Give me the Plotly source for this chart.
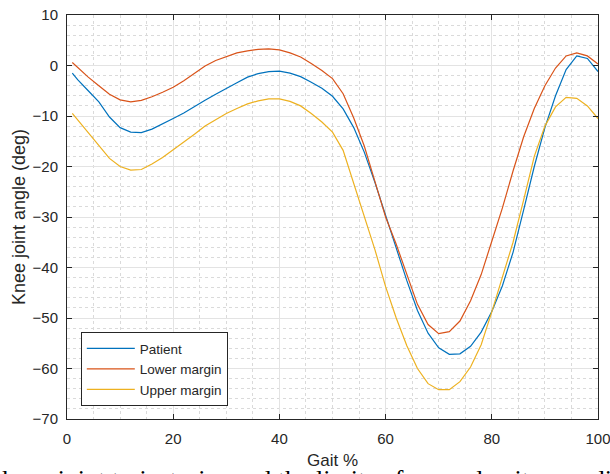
import plotly.graph_objects as go

gait = [1] + list(range(2, 101, 2))

patient = [-1.5, -2.8, -5.0, -7.2, -10.2, -12.3, -13.2, -13.3, -12.6, -11.6,
           -10.5, -9.4, -8.1, -6.9, -5.7, -4.5, -3.4, -2.3, -1.6, -1.2,
           -1.1, -1.5, -2.2, -3.3, -4.5, -6.1, -8.6, -12.3, -17.2, -23.2,
           -29.8, -36.2, -42.6, -48.5, -53.0, -55.9, -57.2, -57.1, -55.6, -52.8,
           -48.7, -43.6, -37.0, -28.6, -20.0, -12.3, -6.0, -0.8, 1.9, 1.4, -1.2]

lower = [0.6, -0.4, -2.3, -4.0, -5.7, -6.8, -7.2, -6.9, -6.2, -5.3,
         -4.3, -3.0, -1.5, -0.1, 1.0, 1.8, 2.5, 2.9, 3.2, 3.3,
         3.1, 2.5, 1.7, 0.4, -1.0, -2.6, -5.6, -10.4, -16.0, -23.0,
         -30.0, -35.4, -41.3, -47.3, -51.3, -53.1, -52.7, -50.6, -46.6, -41.4,
         -34.8, -28.2, -20.9, -14.1, -8.5, -4.0, -0.5, 1.9, 2.5, 1.9, 0.3]

upper = [-9.5, -10.8, -13.3, -16.0, -18.4, -20.0, -20.7, -20.6, -19.5, -18.2,
         -16.7, -15.2, -13.6, -12.0, -10.7, -9.5, -8.5, -7.6, -7.0, -6.6,
         -6.6, -7.1, -8.0, -9.5, -11.2, -13.2, -16.8, -23.5, -30.0, -36.5,
         -43.8, -50.0, -55.5, -60.0, -63.0, -64.2, -64.2, -62.6, -59.7, -55.3,
         -48.8, -41.8, -35.0, -26.6, -18.0, -12.0, -8.2, -6.3, -6.5, -8.0, -10.5]

names = ["Patient", "Lower margin", "Upper margin"]
colors = ["#0072BD", "#D95319", "#EDB120"]

x_ticks = [0, 20, 40, 60, 80, 100]
y_ticks = [10, 0, -10, -20, -30, -40, -50, -60, -70]

caption = "knee joint trajectories and the limits of normal gait according to the"

fig = go.Figure()
for name, vals, col in zip(names, [patient, lower, upper], colors):
    fig.add_trace(go.Scatter(x=gait, y=vals, mode="lines", name=name,
                             line=dict(color=col, width=1.2)))

axis_common = dict(
    showline=True, linecolor="#262626", linewidth=1, mirror="ticks",
    ticks="inside", ticklen=5, tickcolor="#262626", tickwidth=1,
    showgrid=True, gridcolor="#e3e3e3", gridwidth=1, zeroline=False,
    automargin=False, ticklabeloverflow="allow",
    tickfont=dict(family="Liberation Sans, Arial", size=15, color="#262626"),
)

fig.update_xaxes(range=[0, 100], tickvals=x_ticks, **axis_common,
                 minor=dict(dtick=5, showgrid=True, gridcolor="#dadada",
                            griddash="dot", gridwidth=1),
                 ticklabelstandoff=6,
                 title=dict(text="Gait %", standoff=8,
                            font=dict(family="Liberation Sans, Arial", size=17, color="#262626")))
fig.update_yaxes(range=[-70, 10], tickvals=y_ticks, **axis_common,
                 minor=dict(dtick=2, showgrid=True, gridcolor="#dadada",
                            griddash="dot", gridwidth=1),
                 ticklabelstandoff=5,
                 title=dict(text="Knee joint angle (deg)", standoff=2,
                            font=dict(family="Liberation Sans, Arial", size=18, color="#262626")))

fig.update_layout(
    width=610, height=474,
    margin=dict(l=67, r=12, t=15, b=55),
    paper_bgcolor="white", plot_bgcolor="white",
    showlegend=True,
    legend=dict(x=0.026, y=0.032, xanchor="left", yanchor="bottom",
                bgcolor="white", bordercolor="#262626", borderwidth=1,
                font=dict(family="Liberation Sans, Arial", size=13.5, color="#262626"),
                itemwidth=48, tracegroupgap=0),
    annotations=[dict(text=caption, xref="paper", yref="paper",
                      x=-0.126, y=-0.109, xanchor="left", yanchor="top",
                      showarrow=False,
                      font=dict(family="Liberation Serif, Times New Roman", size=26, color="black"))],
)

fig.write_html("out.html")
